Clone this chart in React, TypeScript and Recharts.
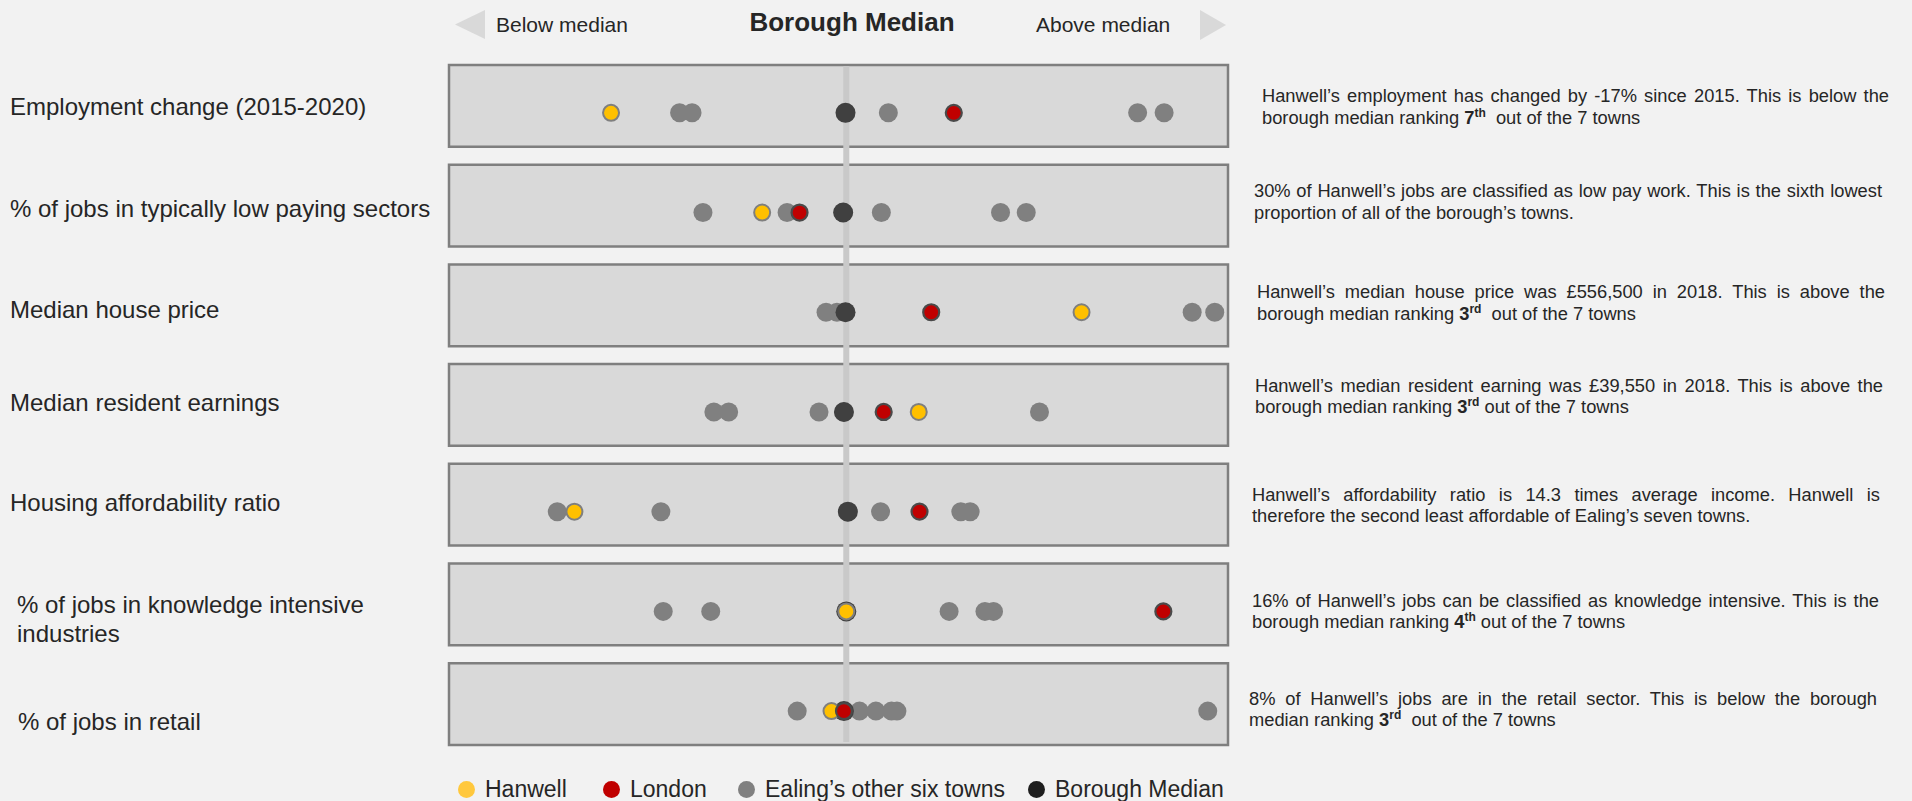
import React from 'react';
import { ScatterChart, Scatter, XAxis, YAxis, ReferenceArea, Legend } from 'recharts';

// ---------- DATA (positions on a 0–100 normalised scale) ----------
const rowLabels: string[][] = [
  ['Employment change (2015-2020)'],
  ['% of jobs in typically low paying sectors'],
  ['Median house price'],
  ['Median resident earnings'],
  ['Housing affordability ratio'],
  ['% of jobs in knowledge intensive', 'industries'],
  ['% of jobs in retail'],
];

const hanwell = [20.8, 40.2, 81.2, 60.3, 16.1, 51.0, 49.1];
const london = [64.8, 45.0, 61.9, 55.8, 60.4, 91.7, 50.7];
const boroughMedian = [50.9, 50.6, 50.9, 50.7, 51.2, 51.0, 50.7];
const otherTowns: number[][] = [
  [29.6, 31.2, 50.9, 56.4, 88.4, 91.8],
  [32.6, 43.4, 50.6, 55.5, 70.8, 74.1],
  [48.4, 49.8, 50.9, 95.4, 98.3],
  [34.0, 35.9, 47.5, 50.7, 75.8],
  [13.9, 27.2, 51.2, 55.4, 65.7, 66.9],
  [27.5, 33.6, 64.2, 68.8, 69.9],
  [44.7, 52.7, 54.8, 56.8, 57.5, 97.4],
];
const medianLineValue = 51.0;

const legendNames = ['Hanwell', 'London', 'Ealing’s other six towns', 'Borough Median'];

const headerLeft = 'Below median';
const headerTitle = 'Borough Median';
const headerRight = 'Above median';

type Comment = { first: string; second: string; rank?: string; suffix?: string; after?: string };
const commentary: Comment[] = [
  { first: 'Hanwell’s employment has changed by -17% since 2015. This is below the', second: 'borough median ranking ', rank: '7', suffix: 'th', after: '\u00a0 out of the 7 towns' },
  { first: '30% of Hanwell’s jobs are classified as low pay work. This is the sixth lowest', second: 'proportion of all of the borough’s towns.' },
  { first: 'Hanwell’s median house price was £556,500 in 2018. This is above the', second: 'borough median ranking ', rank: '3', suffix: 'rd', after: '\u00a0 out of the 7 towns' },
  { first: 'Hanwell’s median resident earning was £39,550 in 2018. This is above the', second: 'borough median ranking ', rank: '3', suffix: 'rd', after: ' out of the 7 towns' },
  { first: 'Hanwell’s affordability ratio is 14.3 times average income. Hanwell is', second: 'therefore the second least affordable of Ealing’s seven towns.' },
  { first: '16% of Hanwell’s jobs can be classified as knowledge intensive. This is the', second: 'borough median ranking ', rank: '4', suffix: 'th', after: ' out of the 7 towns' },
  { first: '8% of Hanwell’s jobs are in the retail sector. This is below the borough', second: 'median ranking ', rank: '3', suffix: 'rd', after: '\u00a0 out of the 7 towns' },
];

// ---------- STYLE / LAYOUT ----------
const FONT = '"Liberation Sans", Arial, Helvetica, sans-serif';
const TEXT = '#262626';
const COL_HANWELL = '#FFC000';
const COL_LONDON = '#C00000';
const COL_OTHER = '#808080';
const COL_MEDIAN = '#404040';
const legendColors = ['#FFC83D', '#C00000', '#808080', '#1E1E1E'];
const legendWidths = [145, 135, 290, 210];

const labelX = [10, 10, 10, 10, 10, 17, 18];
const labelNudge = [-6, -4, -2.5, -9.5, -9.3, -6.6, 10.9];

const commentBoxes = [
  { left: 1262, right: 1889, y: 95.5 },
  { left: 1254, right: 1882, y: 190.7 },
  { left: 1257, right: 1885, y: 291.7 },
  { left: 1255, right: 1883, y: 385 },
  { left: 1252, right: 1880, y: 494 },
  { left: 1252, right: 1879, y: 600 },
  { left: 1249, right: 1877, y: 698.3 },
];

const rows = rowLabels.map((_, i) => i);
const toPoints = (vals: number[]) => vals.map((x, i) => ({ x, y: i }));
const otherPoints = otherTowns.flatMap((vals, i) => vals.map((x) => ({ x, y: i })));
const medianLinePoints = [
  { x: medianLineValue, y: -0.47 },
  { x: medianLineValue, y: 6.31 },
];

const dot = (r: number, fill: string, stroke?: string, sw = 0) => (p: any) =>
  <circle cx={p.cx} cy={p.cy} r={r} fill={fill} stroke={stroke || 'none'} strokeWidth={sw} />;
const noDot = () => <g />;

const LabelTick = (props: any) => {
  const { y, payload } = props;
  const i = payload.value as number;
  const lines = rowLabels[i] || [];
  return (
    <g>
      {lines.map((t, k) => (
        <text key={k} x={labelX[i]} y={y + labelNudge[i] + k * 29} dy="0.35em" fontSize={24} fill={TEXT} fontFamily={FONT}>
          {t}
        </text>
      ))}
    </g>
  );
};

const LegendContent = () => (
  <div style={{ display: 'flex', alignItems: 'center', fontFamily: FONT, fontSize: 23, color: TEXT, whiteSpace: 'nowrap' }}>
    {legendNames.map((n, i) => (
      <div key={n} style={{ width: legendWidths[i], display: 'flex', alignItems: 'center' }}>
        <span style={{ display: 'inline-block', width: 17, height: 17, borderRadius: '50%', background: legendColors[i], marginRight: 10 }} />
        <span>{n}</span>
      </div>
    ))}
  </div>
);

export default function App() {
  return (
    <div style={{ position: 'absolute', left: 0, top: 0, width: 1912, height: 801, background: '#f2f2f2', overflow: 'hidden', fontFamily: FONT }}>
      <ScatterChart width={1912} height={801} margin={{ top: 53, right: 684, bottom: 50, left: 10 }}>
        <XAxis type="number" dataKey="x" domain={[0, 100]} hide allowDataOverflow />
        <YAxis
          type="number"
          dataKey="y"
          domain={[-0.6, 6.4]}
          reversed
          ticks={rows}
          interval={0}
          width={439}
          axisLine={false}
          tickLine={false}
          tick={<LabelTick />}
          allowDataOverflow
        />
        {rows.map((i) => (
          <ReferenceArea key={i} x1={0} x2={100} y1={i - 0.48} y2={i + 0.34} fill="#d9d9d9" fillOpacity={1} stroke="#7f7f7f" strokeWidth={2.5} ifOverflow="visible" />
        ))}
        <Scatter
          name="median-line"
          data={medianLinePoints}
          line={{ stroke: '#c9c9c9', strokeWidth: 6 }}
          lineType="joint"
          shape={noDot}
          legendType="none"
          isAnimationActive={false}
        />
        <Scatter name={legendNames[2]} data={otherPoints} fill={COL_OTHER} shape={dot(9.5, COL_OTHER)} isAnimationActive={false} />
        <Scatter name={legendNames[3]} data={toPoints(boroughMedian)} fill={COL_MEDIAN} shape={dot(10, COL_MEDIAN)} isAnimationActive={false} />
        <Scatter name={legendNames[0]} data={toPoints(hanwell)} fill={COL_HANWELL} shape={dot(8, COL_HANWELL, '#7f7f7f', 2)} isAnimationActive={false} />
        <Scatter name={legendNames[1]} data={toPoints(london)} fill={COL_LONDON} shape={dot(8, COL_LONDON, '#4a4a4a', 2.2)} isAnimationActive={false} />
        <Legend layout="horizontal" verticalAlign="middle" content={<LegendContent />} wrapperStyle={{ left: 458, top: 776, width: 820, height: 24 }} />
      </ScatterChart>

      {/* header */}
      <svg width={1912} height={60} style={{ position: 'absolute', left: 0, top: 0, pointerEvents: 'none' }}>
        <polygon points="485,10 485,39 455,24.5" fill="#d9d9d9" />
        <polygon points="1200,10 1200,40 1226,25" fill="#d9d9d9" />
        <text x={496} y={25} dy="0.35em" fontSize={21} fill={TEXT} fontFamily={FONT}>{headerLeft}</text>
        <text x={852} y={22} dy="0.35em" fontSize={26} fontWeight="bold" textAnchor="middle" fill={TEXT} fontFamily={FONT}>{headerTitle}</text>
        <text x={1036} y={25} dy="0.35em" fontSize={21} fill={TEXT} fontFamily={FONT}>{headerRight}</text>
      </svg>

      {/* commentary */}
      {commentary.map((c, i) => {
        const b = commentBoxes[i];
        const lh = 21;
        const common: React.CSSProperties = { position: 'absolute', left: b.left, width: b.right - b.left, height: lh, lineHeight: lh + 'px', fontSize: 18.3, color: TEXT, fontFamily: FONT };
        return (
          <React.Fragment key={i}>
            <div style={{ ...common, top: b.y - lh / 2, textAlign: 'justify', textAlignLast: 'justify' }}>{c.first}</div>
            <div style={{ ...common, top: b.y + 21.5 - lh / 2, whiteSpace: 'nowrap' }}>
              {c.second}
              {c.rank && (
                <b>
                  {c.rank}
                  <sup style={{ fontSize: 12, lineHeight: 0, verticalAlign: 'super' }}>{c.suffix}</sup>
                </b>
              )}
              {c.after}
            </div>
          </React.Fragment>
        );
      })}
    </div>
  );
}
